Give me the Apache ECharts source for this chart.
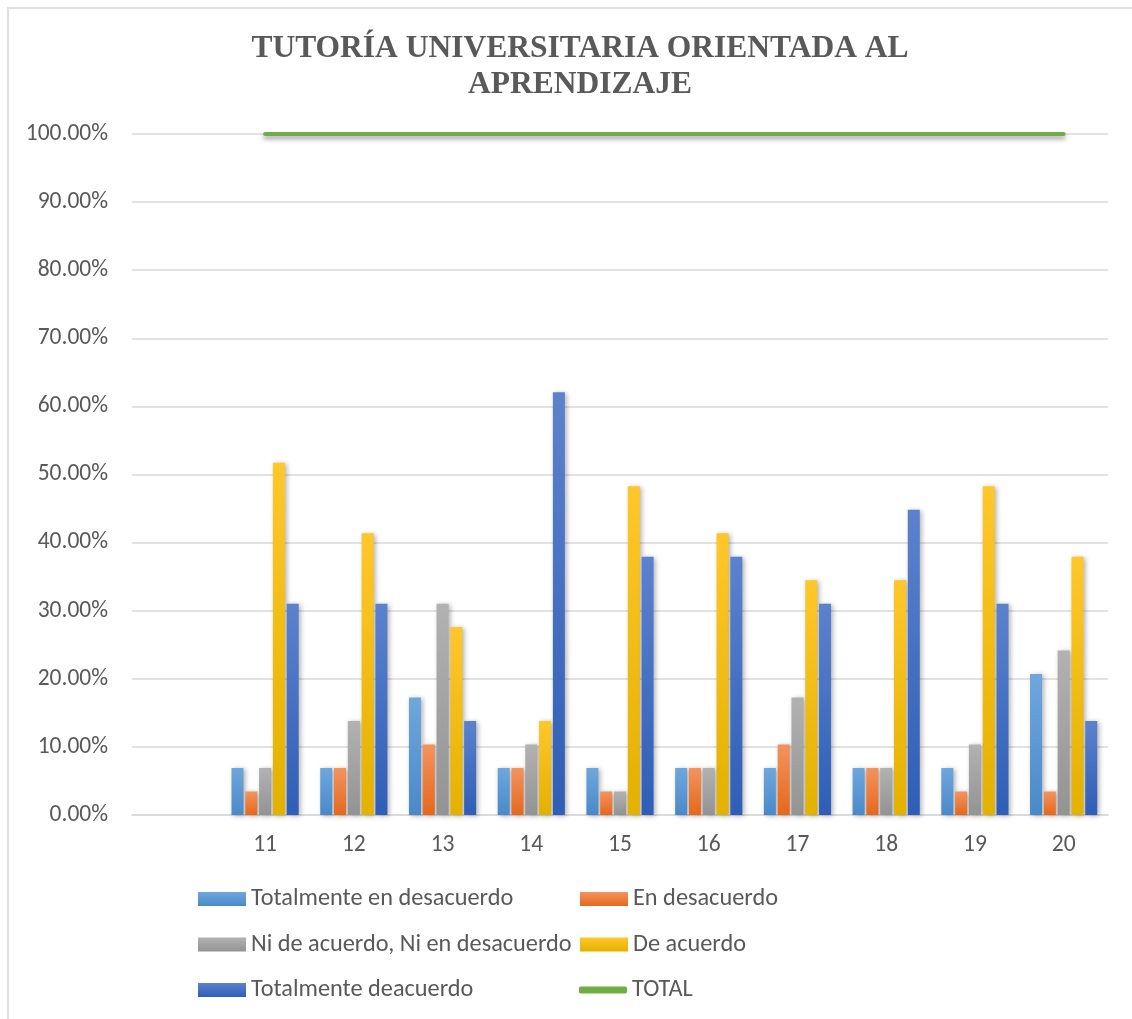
<!DOCTYPE html>
<html>
<head>
<meta charset="utf-8">
<script src="https://cdn.jsdelivr.net/npm/echarts@6/dist/echarts.min.js"></script>
<style>
html,body{margin:0;padding:0;background:#fff;}
#frame{position:absolute;left:7px;top:7px;width:1200px;height:1100px;border-left:2px solid #e0e0e0;border-top:2px solid #e0e0e0;}
#chart{position:absolute;left:0;top:0;width:1132px;height:1019px;}
</style>
</head>
<body>
<div id="frame"></div>
<div id="chart"></div>
<script>
const categories = ['', '11', '12', '13', '14', '15', '16', '17', '18', '19', '20'];
const totDesacuerdo = [null, 0.0690, 0.0690, 0.1724, 0.0690, 0.0690, 0.0690, 0.0690, 0.0690, 0.0690, 0.2069];
const enDesacuerdo = [null, 0.0345, 0.0690, 0.1034, 0.0690, 0.0345, 0.0690, 0.1034, 0.0690, 0.0345, 0.0345];
const niNi = [null, 0.0690, 0.1379, 0.3103, 0.1034, 0.0345, 0.0690, 0.1724, 0.0690, 0.1034, 0.2414];
const deAcuerdo = [null, 0.5172, 0.4138, 0.2759, 0.1379, 0.4828, 0.4138, 0.3448, 0.3448, 0.4828, 0.3793];
const totDeacuerdo = [null, 0.3103, 0.3103, 0.1379, 0.6207, 0.3793, 0.3793, 0.3103, 0.4483, 0.3103, 0.1379];
const total = [null, 1, 1, 1, 1, 1, 1, 1, 1, 1, 1];
const names = ['Totalmente en desacuerdo', 'En desacuerdo', 'Ni de acuerdo, Ni en desacuerdo', 'De acuerdo', 'Totalmente deacuerdo', 'TOTAL'];

const sansFont = 'Carlito, Calibri, "Noto Sans", sans-serif';

function grad(top, bottom) {
  return new echarts.graphic.LinearGradient(0, 0, 0, 1, [
    {offset: 0, color: top}, {offset: 1, color: bottom}
  ]);
}
const barColors = [
  ['#6fa7dd', '#4a89c9'],
  ['#f4935e', '#e5681c'],
  ['#b2b2b2', '#939393'],
  ['#ffc72a', '#e3b100'],
  ['#5c82cd', '#2e5eb6']
];
const seriesData = [totDesacuerdo, enDesacuerdo, niNi, deAcuerdo, totDeacuerdo];

const series = seriesData.map((d, i) => ({
  name: names[i],
  type: 'bar',
  data: d,
  barWidth: 12,
  barGap: '15%',
  itemStyle: {
    color: grad(barColors[i][0], barColors[i][1]),
    shadowBlur: 5,
    shadowOffsetX: 2,
    shadowOffsetY: 1,
    shadowColor: 'rgba(0,0,0,0.3)'
  }
}));
series.push({
  name: names[5],
  type: 'line',
  data: total,
  symbol: 'none',
  z: 5,
  lineStyle: {
    color: '#70ad47',
    width: 4,
    cap: 'round',
    shadowBlur: 5,
    shadowOffsetY: 3,
    shadowColor: 'rgba(0,0,0,0.4)'
  },
  itemStyle: {color: '#70ad47'}
});

const legendText = {fontSize: 24.3, lineHeight: 24, color: '#595959', fontFamily: sansFont};
const legendBase = {
  orient: 'vertical',
  padding: 0,
  itemWidth: 48,
  itemHeight: 14,
  itemGap: 21.5,
  textStyle: legendText,
  icon: 'rect',
  selectedMode: false
};

const chart = echarts.init(document.getElementById('chart'), null, {renderer: 'canvas'});
chart.setOption({
  animation: false,
  title: {
    text: 'TUTORÍA UNIVERSITARIA ORIENTADA AL\nAPRENDIZAJE',
    left: 575,
    textAlign: 'center',
    top: 26,
    textStyle: {
      fontFamily: '"Liberation Serif", "Times New Roman", serif',
      fontWeight: 'bold',
      fontSize: 31.5,
      lineHeight: 36,
      color: '#595959'
    }
  },
  legend: [
    Object.assign({}, legendBase, {left: 198, top: 887, data: [names[0], names[2], names[4]]}),
    Object.assign({}, legendBase, {left: 580, top: 887, data: [names[1], names[3]]}),
    Object.assign({}, legendBase, {left: 579, top: 978, itemHeight: 7, icon: 'roundRect', data: [names[5]]})
  ],
  grid: {left: 132, right: 24, top: 134, bottom: 204, containLabel: false},
  xAxis: {
    type: 'category',
    data: categories,
    axisLine: {lineStyle: {color: '#d9d9d9', width: 1.5}},
    axisTick: {show: false},
    axisLabel: {fontSize: 23.5, color: '#595959', margin: 18, fontFamily: sansFont}
  },
  yAxis: {
    type: 'value',
    min: 0,
    max: 1,
    interval: 0.1,
    axisLine: {show: false},
    axisTick: {show: false},
    splitLine: {lineStyle: {color: '#d9d9d9', width: 1.5}},
    axisLabel: {
      fontSize: 23.5,
      color: '#595959',
      margin: 24,
      fontFamily: sansFont,
      formatter: v => (v * 100).toFixed(2) + '%'
    }
  },
  series: series
});
</script>
</body>
</html>
